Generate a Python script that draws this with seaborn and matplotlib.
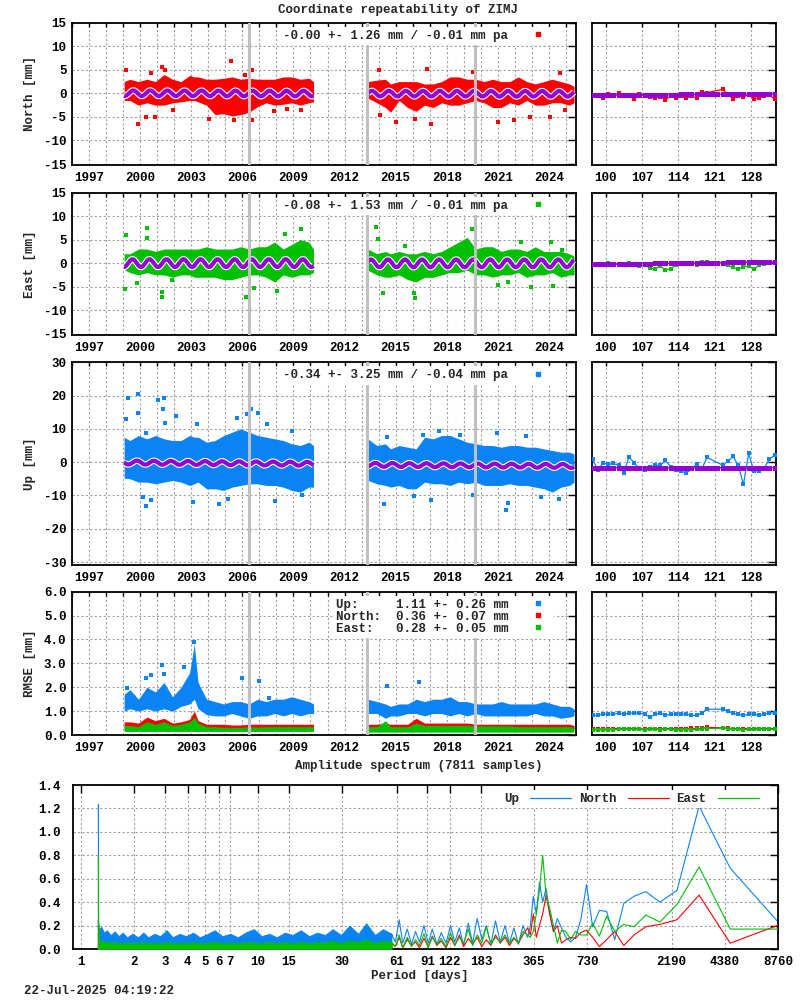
import numpy as np
import matplotlib
matplotlib.use("Agg")
import matplotlib.pyplot as plt
from matplotlib.lines import Line2D
from matplotlib.ticker import NullLocator, FixedLocator, FixedFormatter
import seaborn as sns

sns.set_theme(style="white")
plt.rcParams['font.family'] = ['Liberation Mono', 'DejaVu Sans Mono']
plt.rcParams['font.weight'] = 'bold'
plt.rcParams['font.size'] = 9
plt.rcParams['axes.unicode_minus'] = False

# ---------------- colours ----------------
C_UP, C_N, C_E = '#0a84f5', '#ff0000', '#00c000'
C_FIT, C_EVT, C_GRID = '#9400d3', '#c0c0c0', '#a0a0a0'

# ---------------- data ----------------
title = "Coordinate repeatability of ZIMJ"
stats_north = "-0.00 +- 1.26 mm / -0.01 mm pa"
stats_east = "-0.08 +- 1.53 mm / -0.01 mm pa"
stats_up = "-0.34 +- 3.25 mm / -0.04 mm pa"
rmse_labels = ["Up:     1.11 +- 0.26 mm", "North:  0.36 +- 0.07 mm", "East:   0.28 +- 0.05 mm"]
event_years = [2006.37, 2013.31, 2019.63]

seg1_t = [1999.06, 1999.4, 1999.9, 2000.4, 2000.9, 2001.4, 2001.9, 2002.4, 2002.9, 2003.18, 2003.4,
          2003.9, 2004.4, 2004.9, 2005.4, 2005.9, 2006.4, 2006.9, 2007.4, 2007.9, 2008.4, 2008.9,
          2009.4, 2009.9, 2010.18]
seg2_t = [2013.37, 2013.9, 2014.4, 2014.7, 2015.2, 2015.7, 2016.2, 2016.7, 2017.2, 2017.7, 2018.2,
          2018.7, 2019.2, 2019.7, 2020.2, 2020.7, 2021.2, 2021.7, 2022.2, 2022.7, 2023.2, 2023.7,
          2024.2, 2024.7, 2025.2, 2025.47]

north_hi1 = [2.5, 3.0, 2.5, 3.0, 2.5, 4.0, 3.0, 2.5, 3.8, 3.5, 3.5, 3.0, 3.0, 3.2, 3.5, 3.0, 3.2, 3.0, 3.0, 3.0, 3.5, 3.5, 3.0, 3.2, 2.5]
north_lo1 = [-1.5, -1.5, -2.5, -2.0, -2.5, -2.5, -2.0, -1.8, -1.5, -1.5, -1.8, -2.5, -4.5, -4.3, -4.8, -4.5, -4.0, -2.8, -2.0, -2.5, -2.3, -2.0, -2.5, -2.0, -1.8]
north_hi2 = [2.5, 2.8, 3.0, 2.0, 2.5, 2.5, 2.5, 2.0, 2.0, 2.5, 3.5, 3.5, 3.0, 3.0, 2.5, 3.0, 2.5, 2.5, 3.5, 2.5, 2.0, 2.5, 3.0, 2.5, 2.0, 1.5]
north_lo2 = [-1.0, -2.0, -3.0, -4.0, -1.5, -3.0, -3.8, -2.5, -3.0, -2.0, -2.5, -2.5, -2.0, -1.5, -2.0, -3.0, -3.0, -2.0, -2.5, -1.5, -2.5, -2.5, -2.0, -2.0, -2.5, -2.0]

east_hi1 = [2.0, 2.0, 3.0, 3.0, 2.5, 3.0, 3.0, 3.0, 3.0, 3.0, 3.0, 3.5, 3.0, 3.0, 3.0, 3.5, 3.0, 3.5, 3.5, 4.5, 3.0, 4.0, 5.0, 4.5, 3.0]
east_lo1 = [-1.4, -2.0, -2.5, -2.0, -2.5, -2.5, -3.0, -2.5, -2.5, -3.0, -3.0, -3.0, -3.0, -3.5, -3.5, -3.0, -2.5, -2.5, -3.0, -4.0, -2.5, -3.0, -2.5, -2.5, -2.0]
east_hi2 = [3.0, 2.0, 2.5, 2.0, 2.5, 2.0, 2.0, 2.5, 2.0, 2.5, 3.5, 4.5, 5.5, 3.0, 3.5, 3.5, 2.5, 3.0, 3.0, 2.5, 3.5, 2.5, 2.5, 2.5, 2.0, 1.5]
east_lo2 = [-1.5, -2.5, -3.0, -3.0, -2.5, -3.5, -4.0, -3.0, -3.0, -2.5, -2.0, -2.0, -1.5, -2.5, -2.5, -3.0, -2.5, -2.5, -2.0, -3.0, -2.5, -2.5, -2.0, -3.0, -2.5, -2.5]

up_hi1 = [7.5, 6.5, 8.0, 7.0, 8.0, 7.0, 6.5, 6.5, 8.0, 7.5, 7.5, 6.0, 6.5, 8.0, 9.0, 10.0, 9.0, 8.0, 7.5, 7.0, 6.5, 5.5, 5.0, 6.0, 5.0]
up_lo1 = [-4.8, -5.0, -6.0, -6.0, -6.5, -6.0, -5.5, -6.0, -7.0, -6.5, -6.0, -8.0, -8.0, -8.5, -7.5, -7.0, -6.5, -6.5, -7.0, -7.0, -7.5, -8.5, -9.0, -7.5, -7.5]
up_hi2 = [7.0, 5.0, 5.5, 4.0, 5.0, 4.5, 4.0, 7.5, 7.0, 8.0, 8.0, 7.0, 6.0, 5.5, 5.0, 5.0, 4.5, 5.0, 5.0, 4.5, 4.5, 4.0, 3.5, 3.0, 3.0, 2.5]
up_lo2 = [-5.5, -6.5, -7.0, -7.5, -7.0, -8.0, -8.0, -6.0, -6.5, -6.5, -7.0, -6.0, -6.5, -6.0, -7.0, -7.0, -7.0, -6.5, -7.0, -7.0, -7.5, -8.0, -9.0, -7.5, -7.0, -6.0]

rmse_up_hi1 = [1.7, 1.9, 1.5, 2.0, 1.8, 2.2, 1.6, 2.0, 2.6, 3.8, 2.2, 1.5, 1.4, 1.3, 1.4, 1.4, 1.3, 1.5, 1.4, 1.5, 1.5, 1.6, 1.5, 1.4, 1.3]
rmse_up_lo1 = [1.0, 1.1, 1.0, 1.1, 1.0, 1.1, 1.0, 1.2, 1.3, 1.5, 1.1, 0.85, 0.8, 0.8, 0.9, 0.8, 0.7, 0.8, 0.8, 0.9, 0.8, 0.9, 0.8, 0.9, 0.9]
rmse_up_hi2 = [1.5, 1.4, 1.3, 1.2, 1.3, 1.3, 1.5, 1.4, 1.5, 1.5, 1.6, 1.4, 1.4, 1.3, 1.3, 1.3, 1.4, 1.3, 1.3, 1.3, 1.3, 1.4, 1.3, 1.2, 1.2, 1.1]
rmse_up_lo2 = [0.9, 0.9, 0.7, 0.8, 0.8, 0.9, 0.9, 0.8, 0.9, 0.9, 0.8, 0.9, 0.8, 0.9, 0.8, 0.8, 0.8, 0.8, 0.8, 0.8, 0.9, 0.8, 0.8, 0.7, 0.75, 0.8]
rmse_n_hi1 = [0.55, 0.55, 0.5, 0.75, 0.6, 0.7, 0.5, 0.55, 0.65, 1.0, 0.6, 0.45, 0.45, 0.45, 0.42, 0.42, 0.45, 0.45, 0.45, 0.45, 0.45, 0.45, 0.45, 0.45, 0.45]
rmse_n_lo1 = [0.25] * 25
rmse_e_hi1 = [0.4, 0.4, 0.35, 0.55, 0.45, 0.55, 0.4, 0.45, 0.55, 0.75, 0.5, 0.35, 0.35, 0.32, 0.32, 0.32, 0.35, 0.33, 0.35, 0.35, 0.35, 0.35, 0.35, 0.35, 0.35]
rmse_e_lo1 = [0.15] * 25
rmse_n_hi2 = [0.45, 0.45, 0.5, 0.45, 0.45, 0.45, 0.7, 0.5, 0.5, 0.5, 0.5, 0.5, 0.5, 0.45, 0.45, 0.45, 0.45, 0.45, 0.45, 0.45, 0.45, 0.45, 0.45, 0.45, 0.45, 0.4]
rmse_n_lo2 = [0.25] * 26
rmse_e_hi2 = [0.35, 0.35, 0.6, 0.35, 0.35, 0.35, 0.5, 0.4, 0.4, 0.4, 0.4, 0.4, 0.4, 0.38, 0.38, 0.38, 0.38, 0.38, 0.35, 0.35, 0.35, 0.35, 0.35, 0.35, 0.35, 0.33]
rmse_e_lo2 = [0.12] * 26

north_out_t = [1999.16, 1999.90, 2000.37, 2000.86, 2001.31, 2001.47, 2001.94, 2000.63, 2004.06, 2005.31, 2005.53, 2006.55, 2006.55, 2006.16, 2007.88, 2008.63, 2009.45, 2014.04, 2014.10, 2015.02, 2016.12, 2016.86, 2017.08, 2019.53, 2021.02, 2021.94, 2022.88, 2024.04, 2024.65, 2024.92]
north_out_v = [5.0, -6.6, -5.0, -5.0, 5.7, 5.0, -3.6, 4.3, -5.4, 6.9, -5.7, 5.0, -5.7, 3.9, -3.8, -3.4, -3.6, 5.0, -4.6, -6.1, -5.5, 5.2, -6.4, 4.6, -6.1, -5.7, -5.0, -5.0, 4.3, -3.6]
east_out_t = [1999.16, 1999.12, 1999.84, 2000.41, 2000.39, 2001.29, 2001.29, 2001.88, 2006.20, 2006.71, 2008.06, 2008.51, 2009.45, 2013.84, 2013.94, 2014.24, 2015.57, 2016.10, 2016.16, 2019.49, 2021.61, 2021.02, 2022.33, 2022.96, 2024.10, 2024.24, 2024.78]
east_out_v = [5.9, -5.6, -4.3, 7.5, 5.4, -6.1, -7.3, -3.6, -7.3, -5.2, -5.9, 6.1, 7.3, 7.7, 5.2, -6.4, 3.7, -6.4, -7.5, 7.3, -4.1, -4.6, 4.6, -5.0, 4.6, -4.9, 2.9]
up_out_t = [1999.29, 1999.88, 1999.16, 1999.88, 2000.33, 2001.02, 2001.39, 2001.35, 2001.45, 2002.10, 2003.33, 2005.67, 2006.51, 2006.25, 2006.94, 2007.45, 2008.90, 2000.37, 2000.18, 2000.63, 2003.12, 2004.63, 2005.18, 2007.92, 2009.49, 2014.29, 2014.49, 2016.61, 2017.53, 2018.76, 2020.96, 2022.63, 2017.10, 2019.53, 2021.49, 2021.59, 2023.55, 2024.59, 2016.06]
up_out_v = [19.2, 20.4, 12.9, 14.7, 8.7, 18.7, 19.4, 16.0, 11.7, 13.9, 11.4, 13.4, 15.9, 14.4, 14.7, 11.4, 9.4, -13.3, -10.6, -11.5, -12.0, -12.6, -11.0, -11.6, -9.8, -12.6, 7.7, 8.2, 9.4, 8.2, 8.7, 8.0, -11.3, -9.8, -14.3, -12.3, -10.6, -11.0, -10.3]
rmse_out_t = [1999.24, 2000.37, 2000.63, 2001.29, 2001.39, 2002.59, 2003.18, 2005.96, 2007.0, 2007.57, 2014.47, 2016.39]
rmse_out_v = [1.98, 2.4, 2.5, 2.95, 2.55, 2.86, 3.9, 2.4, 2.26, 1.56, 2.06, 2.23]

# seasonal model read per month (one annual cycle) and segment offsets
north_cycle = [-0.49, -0.60, -0.55, -0.35, -0.06, 0.24, 0.49, 0.60, 0.55, 0.35, 0.06, -0.24]
east_cycle = [-0.81, -0.83, -0.63, -0.26, 0.18, 0.57, 0.81, 0.83, 0.63, 0.26, -0.18, -0.57]
up_cycle = [0.22, -0.09, -0.37, -0.56, -0.59, -0.47, -0.22, 0.09, 0.37, 0.56, 0.59, 0.47]
north_offsets = [(0.05, -0.05), (-0.05, -0.1)]
east_offsets = [(0.0, 0.0), (-0.05, -0.05)]
up_offsets = [(-0.1, -0.5), (-0.8, -1.15)]

# last 35 days (day of year 2025)
fit_days = [97.5, 98.5, 99.5, 100.5, 101.5, 102.5, 103.5, 104.5, 105.5, 106.5, 107.5, 108.5, 109.5, 110.5, 111.5, 112.5, 113.5, 114.5, 115.5, 116.5, 117.5, 118.5, 119.5, 120.5, 121.5, 122.5, 123.5, 124.5, 125.5, 126.5, 127.5, 128.5, 129.5, 130.5, 131.5, 132.5]
recent_days = [97.5, 98.5, 99.5, 100.5, 101.5, 102.5, 103.5, 104.5, 105.5, 106.5, 107.5, 108.5, 109.5, 110.5, 111.5, 112.5, 113.5, 114.5, 115.5, 116.5, 117.5, 118.5, 119.5, 122.5, 123.5, 124.5, 125.5, 126.5, 127.5, 128.5, 129.5, 130.5, 131.5, 132.5]
north_recent = [-0.57, -0.4, -0.9, -0.2, -0.4, 0.0, -0.35, -0.57, -1.1, -0.15, -0.6, -0.7, -1.05, -0.7, -1.3, -0.6, -1.0, -0.6, -1.0, -0.6, -1.0, 0.3, 0.15, 0.85, -0.2, -1.15, -0.6, -0.7, -0.35, -1.15, -0.9, -0.55, -0.45, -1.15]
east_recent = [-0.3, -0.2, -0.4, 0.0, -0.3, -0.2, -0.5, 0.0, -0.3, -0.6, -0.4, -1.0, -1.3, -0.6, -1.5, -1.2, -0.4, -0.2, 0.0, 0.1, -0.3, 0.2, 0.3, 0.0, -0.5, -0.9, -1.2, -0.8, -0.6, -1.3, -0.4, -0.2, 0.1, 0.3]
up_recent = [0.8, -2.4, -0.2, -0.7, -0.4, -1.0, -3.2, 1.6, -0.2, -2.0, -2.4, -1.6, -1.0, -1.0, 0.5, -1.4, -2.4, -2.8, -3.2, -2.2, -0.5, -2.0, 1.4, -0.9, 0.3, 1.7, -0.9, -6.7, 2.6, -2.7, -2.6, -1.7, 0.8, 2.2]
rmse_up_recent = [0.82, 0.82, 0.875, 0.875, 0.875, 0.92, 0.86, 0.92, 0.92, 0.92, 0.86, 0.75, 0.86, 0.92, 0.83, 0.875, 0.875, 0.875, 0.86, 0.82, 0.82, 0.92, 1.08, 1.08, 0.99, 0.92, 0.86, 0.82, 0.875, 0.875, 0.82, 0.875, 0.92, 0.92]
rmse_n_recent = [0.24, 0.24, 0.26, 0.24, 0.27, 0.27, 0.26, 0.27, 0.27, 0.27, 0.24, 0.27, 0.27, 0.25, 0.27, 0.27, 0.27, 0.27, 0.27, 0.28, 0.28, 0.28, 0.32, 0.30, 0.29, 0.27, 0.27, 0.27, 0.27, 0.27, 0.27, 0.27, 0.27, 0.27]
rmse_e_recent = [0.21, 0.21, 0.21, 0.21, 0.21, 0.24, 0.24, 0.24, 0.24, 0.24, 0.21, 0.24, 0.24, 0.22, 0.24, 0.24, 0.21, 0.21, 0.21, 0.21, 0.24, 0.24, 0.27, 0.28, 0.26, 0.24, 0.24, 0.21, 0.24, 0.24, 0.24, 0.24, 0.24, 0.24]

# spectrum
spec_title = "Amplitude spectrum (7811 samples)"
spec_ticks = [1, 2, 3, 4, 5, 6, 7, 10, 15, 30, 61, 91, 122, 183, 365, 730, 2190, 4380, 8760]
dense_period = [1.243, 1.25, 1.27, 1.3, 1.35, 1.4, 1.47, 1.55, 1.63, 1.72, 1.82, 1.95, 2.1, 2.25, 2.4, 2.6, 2.8, 3.05, 3.3, 3.6, 3.93, 4.3, 4.7, 5.2, 5.7, 6.3, 7.0, 7.7, 8.5, 9.5, 10.5, 11.6, 12.8, 14.2, 15.7, 17.5, 19.5, 21.7, 24, 26.5, 29.5, 33, 37, 41, 46, 51, 57]
dense_up = [1.24, 0.22, 0.17, 0.19, 0.14, 0.16, 0.12, 0.15, 0.11, 0.14, 0.10, 0.13, 0.10, 0.14, 0.10, 0.13, 0.11, 0.16, 0.10, 0.13, 0.11, 0.14, 0.10, 0.13, 0.16, 0.11, 0.13, 0.10, 0.14, 0.17, 0.11, 0.13, 0.10, 0.14, 0.12, 0.16, 0.11, 0.14, 0.12, 0.17, 0.12, 0.20, 0.13, 0.22, 0.12, 0.17, 0.13]
dense_north = [0.25, 0.08, 0.06, 0.06, 0.05, 0.05, 0.045, 0.05, 0.04, 0.045, 0.04, 0.045, 0.04, 0.05, 0.04, 0.045, 0.04, 0.05, 0.04, 0.045, 0.04, 0.05, 0.04, 0.045, 0.05, 0.04, 0.045, 0.04, 0.05, 0.045, 0.04, 0.05, 0.04, 0.05, 0.04, 0.05, 0.04, 0.05, 0.045, 0.06, 0.04, 0.06, 0.05, 0.07, 0.04, 0.06, 0.05]
dense_east = [0.80, 0.25, 0.07, 0.07, 0.06, 0.06, 0.055, 0.06, 0.05, 0.055, 0.05, 0.055, 0.05, 0.06, 0.05, 0.055, 0.05, 0.06, 0.05, 0.055, 0.05, 0.06, 0.05, 0.055, 0.06, 0.05, 0.055, 0.05, 0.06, 0.055, 0.05, 0.06, 0.05, 0.06, 0.05, 0.06, 0.05, 0.06, 0.055, 0.07, 0.05, 0.07, 0.06, 0.08, 0.05, 0.07, 0.06]
mid_period = [57, 60, 63, 66, 70, 74, 78, 82, 87, 92, 97, 103, 109, 116, 123, 130, 138, 146, 155, 164, 174, 185, 196, 208, 221, 235, 250, 265, 281, 298, 316]
mid_up = [0.13, 0.06, 0.25, 0.05, 0.17, 0.04, 0.15, 0.06, 0.2, 0.05, 0.17, 0.04, 0.14, 0.05, 0.2, 0.06, 0.18, 0.03, 0.22, 0.05, 0.26, 0.08, 0.2, 0.04, 0.24, 0.06, 0.2, 0.05, 0.18, 0.04, 0.2]
mid_north = [0.05, 0.02, 0.1, 0.01, 0.08, 0.03, 0.06, 0.01, 0.09, 0.02, 0.11, 0.03, 0.07, 0.01, 0.1, 0.03, 0.12, 0.02, 0.09, 0.04, 0.1, 0.02, 0.08, 0.03, 0.12, 0.05, 0.1, 0.03, 0.09, 0.05, 0.12]
mid_east = [0.06, 0.02, 0.12, 0.01, 0.1, 0.02, 0.08, 0.03, 0.13, 0.01, 0.1, 0.04, 0.09, 0.02, 0.14, 0.03, 0.1, 0.05, 0.17, 0.03, 0.12, 0.05, 0.19, 0.04, 0.1, 0.06, 0.12, 0.05, 0.1, 0.05, 0.15]
record_days = 9400.0
harmonic = [28, 27, 26, 25, 24, 23, 22, 21, 20, 19, 18, 17, 16, 15, 14, 13, 12, 11, 10, 9, 8, 7, 6, 5, 4, 3, 2, 1]
long_up = [0.10, 0.20, 0.45, 0.30, 0.57, 0.40, 0.52, 0.30, 0.15, 0.26, 0.18, 0.10, 0.06, 0.10, 0.25, 0.55, 0.19, 0.33, 0.32, 0.08, 0.39, 0.45, 0.49, 0.40, 0.50, 1.22, 0.69, 0.18]
long_north = [0.18, 0.12, 0.30, 0.10, 0.20, 0.30, 0.46, 0.30, 0.15, 0.20, 0.05, 0.08, 0.10, 0.09, 0.14, 0.16, 0.10, 0.02, 0.08, 0.15, 0.03, 0.12, 0.19, 0.21, 0.25, 0.46, 0.05, 0.22]
long_east = [0.12, 0.10, 0.15, 0.30, 0.50, 0.80, 0.45, 0.35, 0.20, 0.05, 0.16, 0.15, 0.08, 0.15, 0.12, 0.12, 0.22, 0.11, 0.28, 0.15, 0.21, 0.19, 0.29, 0.23, 0.38, 0.70, 0.17, 0.17]
timestamp = "22-Jul-2025 04:19:22"

# ---------------- layout helpers ----------------
W, H = 800, 1000
fig = plt.figure(figsize=(8, 10), dpi=100)


def add_ax(l, t, r, b):
    return fig.add_axes([l / W, 1 - b / H, (r - l) / W, (b - t) / H])


def style_frame(ax, ylen=6):
    for s in ax.spines.values():
        s.set_linewidth(1.3)
        s.set_color('black')
    ax.tick_params(axis='both', which='both', direction='in', top=True, right=True,
                   colors='black', width=1.0, labelsize=9)
    ax.tick_params(axis='y', which='major', length=ylen, pad=4)
    ax.tick_params(axis='x', which='both', length=3, pad=5)


def grid(ax, which_x='both'):
    ax.grid(True, axis='x', which=which_x, color=C_GRID, lw=0.8, ls=(0, (2, 2)))
    ax.grid(True, axis='y', which='major', color=C_GRID, lw=0.8, ls=(0, (2, 2)))
    ax.set_axisbelow(True)


def key(ax, handles, labels, anchor_px, **kw):
    leg = ax.legend(handles=handles, labels=labels, markerfirst=False, loc='upper right',
                    bbox_to_anchor=(anchor_px[0] / W, 1 - anchor_px[1] / H),
                    bbox_transform=fig.transFigure, frameon=True, fancybox=False,
                    facecolor='white', edgecolor='none', framealpha=1.0,
                    borderpad=0.25, borderaxespad=0, fontsize=9, **kw)
    leg.set_zorder(20)
    return leg


def fit_values(cycle, t, t0, t1, off):
    t = np.asarray(t, dtype=float)
    ph = (t % 1.0) * 12.0
    cyc = np.interp(ph, np.arange(13), list(cycle) + [cycle[0]])
    return cyc + np.interp(t, [t0, t1], list(off))


rows = [(22.7, 165.0), (192.7, 335.0), (362.3, 565.0), (591.7, 735.0)]
main_lr = (72.0, 575.7)
small_lr = (592.3, 775.7)
year_major = list(range(1997, 2025, 3))
year_minor = list(range(1996, 2026))
doy_ticks = [100, 107, 114, 121, 128]

comps = [
    dict(name='North [mm]', c=C_N, hi=(north_hi1, north_hi2), lo=(north_lo1, north_lo2),
         out=(north_out_t, north_out_v), cyc=north_cycle, off=north_offsets, stats=stats_north,
         recent=north_recent, ylim=(-15.2, 15), yt=[-15, -10, -5, 0, 5, 10, 15]),
    dict(name='East [mm]', c=C_E, hi=(east_hi1, east_hi2), lo=(east_lo1, east_lo2),
         out=(east_out_t, east_out_v), cyc=east_cycle, off=east_offsets, stats=stats_east,
         recent=east_recent, ylim=(-15.3, 15), yt=[-15, -10, -5, 0, 5, 10, 15]),
    dict(name='Up [mm]', c=C_UP, hi=(up_hi1, up_hi2), lo=(up_lo1, up_lo2),
         out=(up_out_t, up_out_v), cyc=up_cycle, off=up_offsets, stats=stats_up,
         recent=up_recent, ylim=(-30.9, 30), yt=[-30, -20, -10, 0, 10, 20, 30]),
]

segs_t = (seg1_t, seg2_t)
recent_t = [2025 + (d - 1) / 365.25 for d in fit_days]

for i, cp in enumerate(comps):
    top, bot = rows[i]
    ax = add_ax(main_lr[0], top, main_lr[1], bot)
    axs = add_ax(small_lr[0], top, small_lr[1], bot)
    # main panel
    for k in range(2):
        ax.fill_between(segs_t[k], cp['lo'][k], cp['hi'][k], color=cp['c'], lw=0, zorder=2)
    sns.scatterplot(x=cp['out'][0], y=cp['out'][1], marker='s', s=5, color=cp['c'],
                    linewidth=0, ax=ax, legend=False, zorder=3)
    for k in range(2):
        t0, t1 = segs_t[k][0], segs_t[k][-1]
        tt = np.arange(t0, t1, 1 / 52.0)
        yy = fit_values(cp['cyc'], tt, t0, t1, cp['off'][k])
        ax.plot(tt, yy, color='white', lw=4.6, zorder=4, solid_capstyle='butt')
        ax.plot(tt, yy, color=C_FIT, lw=3.0, zorder=5, solid_capstyle='butt')
    for ev in event_years:
        ax.axvline(ev, color=C_EVT, lw=2.2, zorder=6)
    ax.set_xlim(1996.0, 2025.57)
    ax.set_ylim(*cp['ylim'])
    ax.set_xticks(year_major)
    ax.set_xticks(year_minor, minor=True)
    ax.set_yticks(cp['yt'])
    ax.set_yticklabels([str(v) for v in cp['yt']])
    style_frame(ax)
    grid(ax)
    key(ax, [Line2D([], [], marker='s', ls='none', color=cp['c'], markersize=2.6)], [cp['stats']],
        (554.0, top + 4.0), handlelength=2.0, handletextpad=1.4)
    fig.text(30 / W, 1 - (top + bot) / 2 / H, cp['name'], rotation=90, ha='center', va='center',
             fontsize=9)
    # small panel
    t0, t1 = segs_t[1][0], segs_t[1][-1]
    fy = fit_values(cp['cyc'], recent_t, t0, t1, cp['off'][1])
    sns.lineplot(x=recent_days, y=cp['recent'], color=cp['c'], lw=0.9, marker='s', markersize=3.2,
                 markeredgewidth=0, ax=axs, zorder=3)
    sns.lineplot(x=fit_days, y=fy, color=C_FIT, lw=1.0, marker='s', markersize=3.6,
                 markeredgewidth=0, ax=axs, zorder=4)
    axs.set_xlim(97.44, 132.7)
    axs.set_ylim(*cp['ylim'])
    axs.set_xticks(doy_ticks)
    axs.set_yticks(cp['yt'])
    axs.set_yticklabels([])
    style_frame(axs)
    axs.xaxis.set_minor_locator(NullLocator())
    grid(axs, 'major')
    axs.set_xlabel('')
    axs.set_ylabel('')

# RMSE panel
top, bot = rows[3]
ax = add_ax(main_lr[0], top, main_lr[1], bot)
axs = add_ax(small_lr[0], top, small_lr[1], bot)
rm = [(C_UP, (rmse_up_lo1, rmse_up_lo2), (rmse_up_hi1, rmse_up_hi2)),
      (C_N, (rmse_n_lo1, rmse_n_lo2), (rmse_n_hi1, rmse_n_hi2)),
      (C_E, (rmse_e_lo1, rmse_e_lo2), (rmse_e_hi1, rmse_e_hi2))]
for c, lo, hi in rm:
    for k in range(2):
        ax.fill_between(segs_t[k], lo[k], hi[k], color=c, lw=0, zorder=2)
sns.scatterplot(x=rmse_out_t, y=rmse_out_v, marker='s', s=5, color=C_UP, linewidth=0, ax=ax,
                legend=False, zorder=3)
for ev in event_years:
    ax.axvline(ev, color=C_EVT, lw=2.2, zorder=6)
ax.set_xlim(1996.0, 2025.57)
ax.set_ylim(0, 6)
ax.set_xticks(year_major)
ax.set_xticks(year_minor, minor=True)
rt = [0, 1, 2, 3, 4, 5, 6]
ax.set_yticks(rt)
ax.set_yticklabels([f"{v:.1f}" for v in rt])
style_frame(ax)
grid(ax)
key(ax, [Line2D([], [], marker='s', ls='none', color=c, markersize=2.6) for c in (C_UP, C_N, C_E)],
    rmse_labels, (554.0, top + 4.0), handlelength=2.0, handletextpad=1.4, labelspacing=0.0)
fig.text(30 / W, 1 - (top + bot) / 2 / H, 'RMSE [mm]', rotation=90, ha='center', va='center', fontsize=9)

for c, vals in ((C_UP, rmse_up_recent), (C_N, rmse_n_recent), (C_E, rmse_e_recent)):
    sns.lineplot(x=recent_days, y=vals, color=c, lw=0.9, marker='s', markersize=3.2,
                 markeredgewidth=0, ax=axs, zorder=3)
axs.set_xlim(97.44, 132.7)
axs.set_ylim(0, 6)
axs.set_xticks(doy_ticks)
axs.set_yticks(rt)
axs.set_yticklabels([])
style_frame(axs)
axs.xaxis.set_minor_locator(NullLocator())
grid(axs, 'major')

# spectrum
axp = add_ax(73, 785, 778, 949)
axp.fill_between(dense_period, 0, dense_up, color=C_UP, lw=0.6, zorder=2)
axp.fill_between(dense_period, 0, dense_north, color=C_N, lw=0.6, zorder=3)
axp.fill_between(dense_period, 0, dense_east, color=C_E, lw=0.6, zorder=4)
long_period = [record_days / k for k in harmonic]
for c, dense, mid, lng, z in ((C_UP, dense_up, mid_up, long_up, 2), (C_N, dense_north, mid_north, long_north, 3),
                              (C_E, dense_east, mid_east, long_east, 4)):
    xs = [dense_period[-1]] + mid_period + long_period
    ys = [dense[-1]] + mid + lng
    sns.lineplot(x=xs, y=ys, color=c, lw=0.8, ax=axp, zorder=z, sort=False)
axp.set_xscale('log')
axp.set_xlim(0.9, 8760)
axp.set_ylim(0, 1.4)
axp.xaxis.set_major_locator(FixedLocator(spec_ticks))
axp.xaxis.set_major_formatter(FixedFormatter([str(v) for v in spec_ticks]))
axp.xaxis.set_minor_locator(NullLocator())
st = [0.0, 0.2, 0.4, 0.6, 0.8, 1.0, 1.2, 1.4]
axp.set_yticks(st)
axp.set_yticklabels([f"{v:.1f}" for v in st])
style_frame(axp)
axp.tick_params(axis='x', which='major', length=6, pad=5)
axp.tick_params(axis='y', which='major', length=6, pad=9)
grid(axp, 'major')
key(axp, [Line2D([], [], color=c, lw=0.9) for c in (C_UP, C_N, C_E)], ['Up', 'North', 'East'],
    (762.0, 790.0), ncol=3, handlelength=3.3, handletextpad=0.9, columnspacing=0.6)

fig.text(398.5 / W, 1 - 10 / H, title, ha='center', va='center', fontsize=9)
fig.text(419 / W, 1 - 766 / H, spec_title, ha='center', va='center', fontsize=9)
fig.text(420 / W, 1 - 976 / H, 'Period [days]', ha='center', va='center', fontsize=9)
fig.text(24 / W, 1 - 991 / H, timestamp, ha='left', va='center', fontsize=9)

fig.savefig('out.png', dpi=100)
